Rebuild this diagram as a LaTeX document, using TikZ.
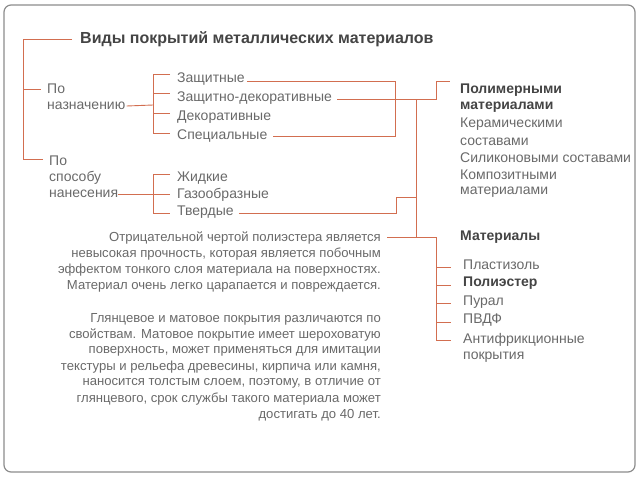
\documentclass[tikz,border=0pt]{standalone}
\usepackage{fontspec}
\setmainfont{Liberation Sans}
\definecolor{ln}{RGB}{210,110,80}
\definecolor{txt}{RGB}{105,105,105}
\definecolor{dark}{RGB}{68,68,68}
\definecolor{frame}{RGB}{140,140,140}
\begin{document}
\begin{tikzpicture}[x=1pt,y=-1pt,
  conn/.style={draw=ln,line width=0.9pt},
  item/.style={anchor=west,inner sep=0pt,text=txt,font=\fontsize{14}{16}\selectfont},
  bitem/.style={item,text=dark,font=\bfseries\fontsize{14}{16}\selectfont},
  para/.style={anchor=east,inner sep=0pt,text=txt,font=\fontsize{13.1}{16}\selectfont}]
\useasboundingbox (0,0) rectangle (640,480);
\draw[frame,line width=1.2pt,rounded corners=7pt] (4,5) rectangle (635,472);
% title
\node[anchor=west,inner sep=0pt,text=dark,font=\bfseries\fontsize{16}{18}\selectfont] (title) at (80,39) {Виды покрытий металлических материалов};
% left column
\node[item] (po1) at (47,89) {По};
\node[item] (naz) at (47,106) {назначению};
\node[item] (sp1) at (49,161) {По};
\node[item] (sp2) at (49,178) {способу};
\node[item] (sp3) at (49,194) {нанесения};
% middle
\node[item] (z1) at (177,79) {Защитные};
\node[item] (z2) at (177,98) {Защитно-декоративные};
\node[item] (z3) at (177,117) {Декоративные};
\node[item] (z4) at (177,136) {Специальные};
\node[item] (g1) at (177,178) {Жидкие};
\node[item] (g2) at (177,195) {Газообразные};
\node[item] (g3) at (177,212) {Твердые};
% right
\node[bitem] (r1) at (460,90) {Полимерными};
\node[bitem] (r2) at (460,107) {материалами};
\node[item] (r3) at (460,124) {Керамическими};
\node[item] (r4) at (460,142) {составами};
\node[item] (r5) at (460,158) {Силиконовыми составами};
\node[item] (r6) at (460,175) {Композитными};
\node[item] (r7) at (460,192) {материалами};
\node[bitem] (mat) at (460,237) {Материалы};
\node[item] (m1) at (463,265) {Пластизоль};
\node[bitem] (m2) at (463,283) {Полиэстер};
\node[item] (m3) at (463,302) {Пурал};
\node[item] (m4) at (463,320) {ПВДФ};
\node[item] (m5) at (463,340) {Антифрикционные};
\node[item] (m6) at (463,357) {покрытия};
% paragraph
\node[para] (p1) at (381,238) {Отрицательной чертой полиэстера является};
\node[para] (p2) at (381,254) {невысокая прочность, которая является побочным};
\node[para] (p3) at (381,270) {эффектом тонкого слоя материала на поверхностях.};
\node[para] (p4) at (381,286) {Материал очень легко царапается и повреждается.};
\node[para] (q1) at (381,319) {Глянцевое и матовое покрытия различаются по};
\node[para] (q2) at (381,335) {свойствам. Матовое покрытие имеет шероховатую};
\node[para] (q3) at (381,351) {поверхность, может применяться для имитации};
\node[para] (q4) at (381,367) {текстуры и рельефа древесины, кирпича или камня,};
\node[para] (q5) at (381,383) {наносится толстым слоем, поэтому, в отличие от};
\node[para] (q6) at (381,399) {глянцевого, срок службы такого материала может};
\node[para] (q7) at (381,415) {достигать до 40 лет.};
% coordinates
\coordinate (LB) at (23,39);
\coordinate (B1) at (153,74);
\coordinate (B2) at (153,174);
\coordinate (J1) at (395,81);
\coordinate (J2) at (436,81);
\coordinate (V) at (416,99);
\coordinate (J3) at (396,197);
\coordinate (M) at (436,237);
% left bracket
\draw[conn] ([xshift=-8pt]title.west) -- (LB) -- (23,159) -- ([xshift=-6pt]sp1.west |- 0,159);
\draw[conn] (23,89) -- ([xshift=-6pt]po1.west);
% bracket 1
\draw[conn] ([xshift=1pt]naz.east) -- (153,105);
\draw[conn] ([xshift=-7pt]z1.west |- B1) -- (B1) -- (153,133) -- ([xshift=-7pt]z4.west |- 0,133);
\draw[conn] (153,93) -- ([xshift=-7pt]z2.west |- 0,93);
\draw[conn] (153,113) -- ([xshift=-7pt]z3.west |- 0,113);
% bracket 2
\draw[conn] (sp3.east) -- (153,194);
\draw[conn] ([xshift=-7pt]g1.west |- B2) -- (B2) -- (153,213) -- ([xshift=-7pt]g3.west |- 0,213);
\draw[conn] (153,194) -- ([xshift=-7pt]g2.west |- 0,194);
% right connectors
\draw[conn] ([xshift=2pt]z1.east |- J1) -- (J1) -- (395,136) -- ([xshift=5pt]z4.east |- 0,136);
\draw[conn] ([xshift=5pt]z2.east |- 0,99) -- (436,99) -- (J2) -- ([xshift=-10pt]r1.west |- J2);
\draw[conn] (V) -- (416,237);
\draw[conn] ([xshift=5pt]g3.east |- 0,213) -- (396,213) -- (J3) -- (416,197);
\draw[conn] ([xshift=6pt]p1.east |- M) -- (M) -- (436,340);
\foreach \n/\y in {m1/267,m2/285,m3/303,m4/322,m5/340}
  \draw[conn] (436,\y) -- ([xshift=-12pt]\n.west |- 0,\y);
\end{tikzpicture}
\end{document}
